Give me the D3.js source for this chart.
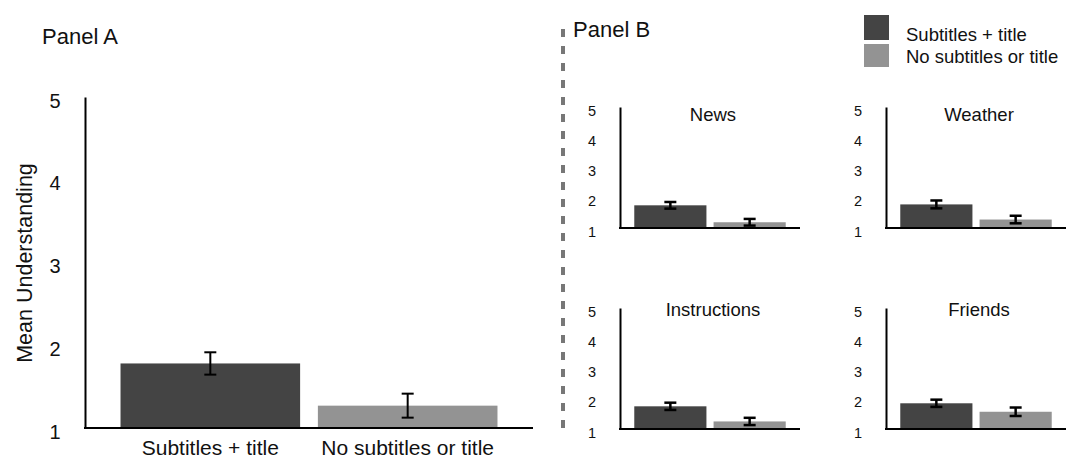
<!DOCTYPE html>
<html>
<head>
<meta charset="utf-8">
<script src="https://cdn.jsdelivr.net/npm/d3@7"></script>
<style>
  html, body { margin: 0; padding: 0; background: #fff; }
  svg { display: block; font-family: "Liberation Sans", Arial, Helvetica, sans-serif; }
</style>
</head>
<body>
<svg id="chart" width="1066" height="458"></svg>
<script>
// ---------- data ----------
const groups = ["Subtitles + title", "No subtitles or title"];
const panelAMeans = [1.78, 1.27];
const panelAErrors = [0.135, 0.145];

const bCategories = ["News", "Weather", "Instructions", "Friends"];
const bSubtitled = [1.75, 1.78, 1.75, 1.85];
const bNone = [1.19, 1.28, 1.25, 1.57];
const bSubtitledErr = [0.11, 0.13, 0.12, 0.12];
const bNoneErr = [0.11, 0.125, 0.12, 0.14];

const yTicks = [1, 2, 3, 4, 5];
const colors = ["#444444", "#939393"];

// ---------- drawing ----------
const svg = d3.select("#chart");

function drawPanel(g, opt) {
  const x = d3.scaleBand().domain(groups).range([opt.x0, opt.x1])
    .paddingInner(0.09).paddingOuter(0.18);
  const y = d3.scaleLinear().domain([1, 5]).range([opt.yBottom, opt.yTop]);

  // bars
  g.selectAll("rect.bar").data(opt.values).join("rect")
    .attr("class", "bar")
    .attr("x", (d, i) => x(groups[i]))
    .attr("width", x.bandwidth())
    .attr("y", d => y(d))
    .attr("height", d => y(1) - y(d))
    .attr("fill", (d, i) => colors[i]);

  // error bars
  const eb = g.selectAll("g.err").data(opt.values).join("g").attr("class", "err")
    .attr("stroke", "#000").attr("stroke-width", opt.errWidth).attr("fill", "none");
  eb.each(function (d, i) {
    const cx = x(groups[i]) + x.bandwidth() / 2;
    const e = opt.errors[i];
    const s = d3.select(this);
    s.append("line").attr("x1", cx).attr("x2", cx).attr("y1", y(d + e)).attr("y2", y(d - e));
    s.append("line").attr("x1", cx - opt.cap / 2).attr("x2", cx + opt.cap / 2).attr("y1", y(d + e)).attr("y2", y(d + e));
    s.append("line").attr("x1", cx - opt.cap / 2).attr("x2", cx + opt.cap / 2).attr("y1", y(d - e)).attr("y2", y(d - e));
  });

  // y axis
  const ya = g.append("g").attr("transform", `translate(${opt.x0},0)`)
    .call(d3.axisLeft(y).tickValues(yTicks).tickFormat(d3.format("d")).tickSize(0).tickSizeOuter(0));
  ya.select(".domain").attr("stroke", "#000").attr("stroke-width", 2);
  ya.selectAll(".tick text")
    .attr("x", -opt.labelOffset).attr("dy", null).attr("y", opt.labelDy)
    .attr("text-anchor", "middle")
    .attr("font-family", "Liberation Sans, Arial, sans-serif")
    .attr("font-size", opt.tickFont).attr("fill", "#111");

  // x axis line
  const xa = g.append("g").attr("transform", `translate(0,${opt.yBottom})`)
    .call(d3.axisBottom(x).tickSize(0).tickSizeOuter(0).tickFormat(opt.showXLabels ? (d => d) : ""));
  xa.select(".domain").attr("stroke", "#000").attr("stroke-width", 2)
    .attr("d", `M${opt.x0 - 1},0H${opt.x1}`);
  xa.selectAll(".tick text")
    .attr("dy", null).attr("y", opt.xLabelY)
    .attr("font-family", "Liberation Sans, Arial, sans-serif")
    .attr("font-size", 21).attr("fill", "#111");

  if (opt.title) {
    g.append("text").attr("x", (opt.x0 + opt.x1) / 2 + 3).attr("y", opt.titleY)
      .attr("text-anchor", "middle").attr("font-size", 18.5).attr("fill", "#111")
      .text(opt.title);
  }
  return y;
}

// Panel A
svg.append("text").attr("x", 42).attr("y", 44).attr("font-size", 22).attr("fill", "#111").text("Panel A");
drawPanel(svg.append("g"), {
  x0: 85, x1: 533, yTop: 97, yBottom: 428,
  values: panelAMeans, errors: panelAErrors,
  errWidth: 2, cap: 12, tickFont: 20, labelOffset: 30, labelDy: 10,
  showXLabels: true, xLabelY: 27
});
svg.append("text")
  .attr("transform", "translate(32,263) rotate(-90)")
  .attr("text-anchor", "middle").attr("font-size", 21.5).attr("fill", "#111")
  .text("Mean Understanding");

// Divider
svg.append("line").attr("x1", 563).attr("x2", 563).attr("y1", 29).attr("y2", 432)
  .attr("stroke", "#777").attr("stroke-width", 4).attr("stroke-dasharray", "8,9");

// Panel B
svg.append("text").attr("x", 573).attr("y", 37).attr("font-size", 22).attr("fill", "#111").text("Panel B");

const bLayout = [
  { x0: 620, x1: 800, yTop: 107, yBottom: 228, titleY: 121 },
  { x0: 886, x1: 1066, yTop: 107, yBottom: 228, titleY: 121 },
  { x0: 620, x1: 800, yTop: 308, yBottom: 429, titleY: 316 },
  { x0: 886, x1: 1066, yTop: 308, yBottom: 429, titleY: 316 }
];
bCategories.forEach((cat, i) => {
  const L = bLayout[i];
  drawPanel(svg.append("g"), Object.assign({}, L, {
    values: [bSubtitled[i], bNone[i]],
    errors: [bSubtitledErr[i], bNoneErr[i]],
    errWidth: 2.5, cap: 12, tickFont: 14.5, labelOffset: 28, labelDy: 8,
    showXLabels: false, xLabelY: 0, title: cat
  }));
});

// Legend
const legend = svg.append("g");
groups.forEach((gname, i) => {
  legend.append("rect").attr("x", 864).attr("y", i === 0 ? 15 : 44)
    .attr("width", 25).attr("height", i === 0 ? 25 : 23).attr("fill", colors[i]);
  legend.append("text").attr("x", 906).attr("y", i === 0 ? 41 : 63)
    .attr("font-size", 18.5).attr("fill", "#111").text(gname);
});
</script>
</body>
</html>
